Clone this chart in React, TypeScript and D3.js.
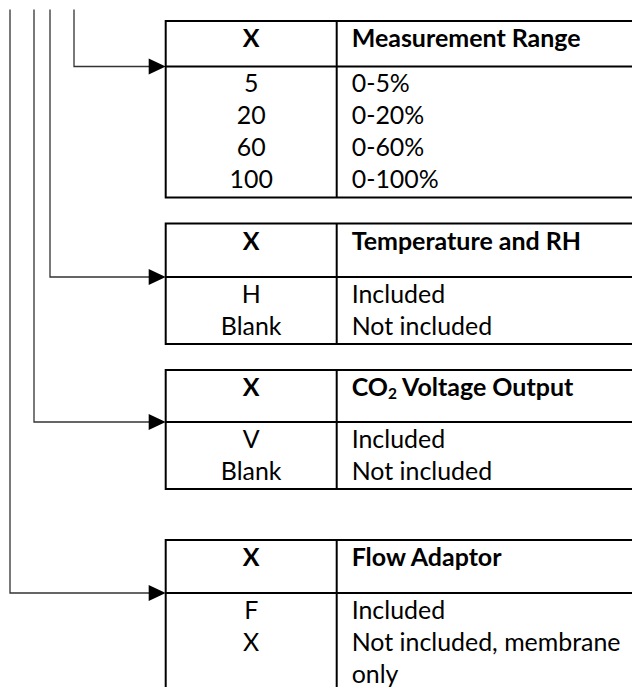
import React, { useMemo } from "react";
import * as d3 from "d3";

const WIDTH = 632;
const HEIGHT = 687;

// ---- data ----
const tableTitles = ["Measurement Range", "Temperature and RH", "CO2 Voltage Output", "Flow Adaptor"];
const codeHeader = "X";
const codes1 = ["5", "20", "60", "100"];
const descs1 = ["0-5%", "0-20%", "0-60%", "0-100%"];
const codes2 = ["H", "Blank"];
const descs2 = ["Included", "Not included"];
const codes3 = ["V", "Blank"];
const descs3 = ["Included", "Not included"];
const codes4 = ["F", "X", ""];
const descs4 = ["Included", "Not included, membrane", "only"];

const tableCodes = [codes1, codes2, codes3, codes4];
const tableDescs = [descs1, descs2, descs3, descs4];

// ---- layout ----
const tableTop = [21, 223.5, 370, 540];
const headerBottom = [66.5, 277, 422, 593];
const tableBottom = [197.5, 344, 489, 720];
const connectorX = [74, 50, 34, 10];
const connectorTop = 9.5;
const tableLeft = 165.7;
const dividerX = 336.7;
const tableRight = 660;
const descX = 351.7;
const rowStep = 32;

const FONT = "Lato, 'Open Sans', sans-serif";

function measure(text: string, weight: string, family: string): number {
  const c = document.createElement("canvas").getContext("2d");
  if (!c) return 0;
  c.font = `${weight} 100px ${family}`;
  return c.measureText(text).width;
}

function Title({ text, x, y, size }: { text: string; x: number; y: number; size: number }) {
  if (text.startsWith("CO2")) {
    return (
      <text x={x} y={y} fontFamily={FONT} fontWeight="bold" fontSize={size} fill="#000">
        CO
        <tspan fontSize={size * 0.62} dy={3}>2</tspan>
        <tspan dy={-3}>{text.slice(3)}</tspan>
      </text>
    );
  }
  return (
    <text x={x} y={y} fontFamily={FONT} fontWeight="bold" fontSize={size} fill="#000">
      {text}
    </text>
  );
}

export default function App() {
  const sizes = useMemo(() => {
    const wb = measure("Measurement Range", "bold", FONT);
    const wr = measure("Not included, membrane", "normal", FONT);
    const bold = wb > 0 ? (100 * 229) / wb : 21;
    const reg = wr > 0 ? (100 * 269) / wr : 21;
    return { bold, reg };
  }, []);

  const colCenter = (tableLeft + dividerX) / 2;

  return (
    <svg
      width={WIDTH}
      height={HEIGHT}
      style={{ position: "absolute", left: 0, top: 0, background: "#fff" }}
    >
      <rect x={0} y={0} width={WIDTH} height={HEIGHT} fill="#fff" />
      {tableTitles.map((title, i) => {
        const rowY = d3
          .scaleLinear()
          .domain([0, 1])
          .range([headerBottom[i] + 25.5, headerBottom[i] + 25.5 + rowStep]);
        const p = d3.path();
        p.moveTo(connectorX[i], connectorTop);
        p.lineTo(connectorX[i], headerBottom[i]);
        p.lineTo(tableLeft - 16, headerBottom[i]);
        const ah = d3.path();
        ah.moveTo(tableLeft, headerBottom[i]);
        ah.lineTo(tableLeft - 17, headerBottom[i] - 8);
        ah.lineTo(tableLeft - 17, headerBottom[i] + 8);
        ah.closePath();
        const codes = tableCodes[i];
        const descs = tableDescs[i];
        return (
          <g key={title}>
            <path d={p.toString()} fill="none" stroke="#333" strokeWidth={1.3} />
            <path d={ah.toString()} fill="#000" />
            <rect
              x={tableLeft}
              y={tableTop[i]}
              width={tableRight - tableLeft}
              height={tableBottom[i] - tableTop[i]}
              fill="none"
              stroke="#000"
              strokeWidth={2}
            />
            <line x1={tableLeft} x2={tableRight} y1={headerBottom[i]} y2={headerBottom[i]} stroke="#000" strokeWidth={2} />
            <line x1={dividerX} x2={dividerX} y1={tableTop[i]} y2={tableBottom[i]} stroke="#000" strokeWidth={2} />
            <text
              x={colCenter}
              y={tableTop[i] + 26}
              textAnchor="middle"
              fontFamily={FONT}
              fontWeight="bold"
              fontSize={sizes.bold}
              fill="#000"
            >
              {codeHeader}
            </text>
            <Title text={title} x={descX} y={tableTop[i] + 26} size={sizes.bold} />
            {codes.map((c, j) => (
              <text
                key={"c" + j}
                x={colCenter}
                y={rowY(j)}
                textAnchor="middle"
                fontFamily={FONT}
                fontSize={sizes.reg}
                fill="#000"
              >
                {c}
              </text>
            ))}
            {descs.map((d, j) => (
              <text key={"d" + j} x={descX} y={rowY(j)} fontFamily={FONT} fontSize={sizes.reg} fill="#000">
                {d}
              </text>
            ))}
          </g>
        );
      })}
    </svg>
  );
}
